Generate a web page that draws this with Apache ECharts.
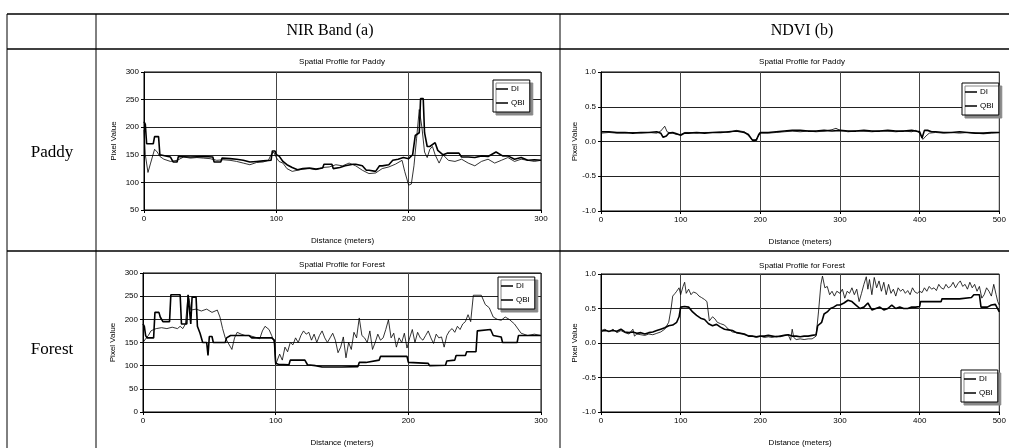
<!DOCTYPE html>
<html>
<head>
<meta charset="utf-8">
<script src="https://cdn.jsdelivr.net/npm/echarts@6/dist/echarts.min.js"></script>
<style>
  html, body { margin: 0; padding: 0; background: #fff; }
  #Echarts { width: 1009px; height: 448px; }
</style>
</head>
<body>
<div id="Echarts"></div>
<script>
// ---- data ----
// NIR band, paddy (distance m / pixel value)
const nirPaddyDiX = [0, 1, 2, 7, 8, 11, 12, 20, 22, 25, 26, 35, 45, 52, 53, 58, 59, 65, 70, 75, 80, 85, 90, 96, 97, 99, 100, 102, 105, 108, 112, 116, 120, 125, 130, 135, 136, 142, 143, 148, 152, 158, 160, 165, 168, 170, 175, 178, 180, 185, 188, 192, 196, 200, 203, 205, 208, 209, 211, 212, 214, 216, 220, 222, 226, 229, 238, 240, 245, 250, 255, 260, 266, 271, 275, 280, 285, 290, 295, 300];
const nirPaddyDiY = [210, 205, 170, 170, 183, 183, 150, 146, 137, 137, 147, 146, 147, 146, 137, 137, 144, 143, 142, 140, 137, 138, 139, 140, 157, 157, 150, 148, 138, 132, 127, 123, 125, 126, 124, 126, 133, 133, 125, 127, 130, 133, 133, 130, 122, 122, 120, 130, 130, 132, 140, 142, 145, 143, 150, 185, 190, 252, 252, 190, 165, 165, 172, 158, 150, 153, 153, 146, 146, 145, 148, 147, 155, 148, 148, 142, 145, 140, 141, 140];
const nirPaddyQbiX = [0, 1, 3, 5, 8, 10, 12, 15, 20, 25, 30, 35, 40, 45, 50, 55, 60, 65, 70, 75, 80, 85, 90, 94, 96, 98, 100, 102, 105, 108, 112, 116, 120, 125, 130, 135, 140, 145, 150, 155, 160, 165, 170, 175, 180, 185, 190, 195, 197, 200, 202, 204, 206, 208, 210, 212, 214, 216, 218, 220, 223, 226, 230, 235, 240, 245, 250, 255, 260, 265, 270, 275, 280, 285, 290, 295, 300];
const nirPaddyQbiY = [195, 150, 118, 135, 160, 155, 147, 142, 138, 140, 146, 144, 145, 144, 143, 140, 141, 140, 138, 135, 132, 136, 137, 140, 150, 155, 145, 138, 135, 125, 120, 122, 124, 125, 123, 127, 128, 132, 130, 135, 130, 122, 116, 117, 125, 128, 133, 140, 120, 95, 97, 130, 180, 232, 200, 155, 145, 160, 165, 150, 135, 150, 140, 138, 142, 135, 130, 138, 142, 135, 140, 145, 138, 142, 140, 138, 140];

// NDVI, paddy
const ndviPaddyDiX = [0, 10, 20, 30, 40, 50, 60, 70, 75, 78, 82, 85, 90, 95, 100, 105, 110, 120, 130, 140, 150, 160, 170, 180, 185, 190, 195, 198, 200, 210, 220, 230, 240, 250, 260, 270, 280, 290, 300, 310, 320, 330, 340, 350, 360, 370, 380, 390, 400, 403, 406, 410, 415, 420, 430, 440, 450, 460, 470, 480, 490, 500];
const ndviPaddyDiY = [0.14, 0.14, 0.13, 0.13, 0.12, 0.13, 0.13, 0.14, 0.12, 0.06, 0.08, 0.12, 0.13, 0.11, 0.09, 0.12, 0.12, 0.13, 0.12, 0.13, 0.13, 0.14, 0.15, 0.13, 0.1, 0.02, 0.02, 0.1, 0.13, 0.13, 0.14, 0.15, 0.16, 0.16, 0.15, 0.15, 0.16, 0.15, 0.16, 0.15, 0.15, 0.16, 0.15, 0.15, 0.16, 0.15, 0.15, 0.16, 0.14, 0.05, 0.16, 0.16, 0.14, 0.14, 0.13, 0.13, 0.14, 0.13, 0.12, 0.12, 0.13, 0.13];
const ndviPaddyQbiX = [0, 10, 20, 30, 40, 50, 60, 70, 75, 80, 83, 87, 90, 95, 100, 105, 110, 120, 130, 140, 150, 160, 170, 180, 188, 192, 196, 200, 210, 220, 230, 240, 250, 260, 270, 280, 290, 295, 300, 310, 320, 330, 340, 350, 360, 370, 380, 390, 395, 400, 404, 408, 412, 420, 430, 440, 450, 460, 470, 480, 490, 500];
const ndviPaddyQbiY = [0.12, 0.13, 0.12, 0.12, 0.13, 0.12, 0.13, 0.12, 0.15, 0.22, 0.14, 0.12, 0.12, 0.1, 0.1, 0.13, 0.13, 0.12, 0.13, 0.13, 0.14, 0.13, 0.16, 0.14, 0.05, 0.0, 0.05, 0.12, 0.12, 0.13, 0.14, 0.15, 0.14, 0.15, 0.14, 0.15, 0.17, 0.19, 0.16, 0.14, 0.15, 0.15, 0.14, 0.15, 0.15, 0.14, 0.15, 0.14, 0.16, 0.12, 0.03, 0.08, 0.12, 0.13, 0.12, 0.13, 0.12, 0.13, 0.12, 0.11, 0.12, 0.13];

// NIR band, forest
const nirForestDiX = [0, 1, 2, 3, 8, 9, 12, 13, 15, 20, 21, 28, 29, 33, 34, 35, 36, 37, 40, 41, 43, 45, 48, 49, 50, 52, 53, 62, 63, 66, 80, 82, 97, 99, 100, 102, 110, 111, 122, 124, 130, 135, 150, 162, 163, 168, 169, 178, 179, 199, 200, 215, 216, 228, 229, 235, 236, 243, 244, 251, 252, 262, 264, 270, 271, 282, 283, 300];
const nirForestDiY = [190, 185, 165, 160, 160, 215, 215, 205, 195, 195, 253, 253, 190, 190, 253, 253, 190, 248, 248, 185, 170, 150, 150, 122, 163, 163, 150, 150, 160, 165, 165, 160, 160, 155, 105, 103, 102, 112, 112, 102, 100, 97, 97, 98, 107, 107, 111, 112, 120, 120, 107, 105, 100, 101, 110, 112, 122, 122, 130, 130, 175, 178, 165, 162, 150, 150, 165, 165];
const nirForestQbiX = [0, 2, 4, 6, 8, 10, 14, 18, 22, 26, 28, 30, 32, 34, 35, 36, 40, 44, 48, 52, 56, 58, 60, 62, 64, 66, 67, 69, 71, 74, 77, 80, 84, 88, 90, 92, 95, 97, 99, 100, 101, 103, 105, 107, 109, 111, 113, 115, 117, 119, 121, 123, 125, 127, 129, 131, 133, 135, 137, 139, 141, 143, 145, 147, 149, 151, 153, 155, 157, 159, 161, 163, 165, 167, 169, 171, 173, 175, 177, 179, 181, 183, 185, 187, 189, 191, 193, 195, 197, 199, 201, 203, 205, 207, 209, 211, 213, 215, 217, 219, 221, 223, 225, 227, 229, 231, 233, 235, 237, 239, 241, 243, 245, 247, 249, 255, 258, 261, 264, 267, 270, 273, 276, 280, 285, 290, 295, 300];
const nirForestQbiY = [150, 158, 165, 175, 178, 180, 182, 180, 183, 180, 185, 180, 190, 252, 240, 220, 222, 218, 222, 215, 220, 205, 180, 160, 150, 140, 135, 160, 172, 168, 165, 165, 162, 158, 175, 185, 178, 165, 150, 102, 110, 125, 112, 140, 130, 150, 145, 160, 150, 165, 175, 168, 172, 155, 168, 150, 165, 175, 160, 150, 160, 170, 155, 128, 140, 162, 117, 150, 135, 172, 160, 203, 165, 160, 150, 175, 135, 150, 168, 155, 160, 178, 199, 160, 170, 140, 160, 150, 170, 138, 160, 178, 150, 172, 160, 155, 165, 175, 160, 148, 168, 160, 162, 140, 165, 175, 180, 172, 185, 178, 190, 195, 210, 195, 252, 252, 232, 225, 205, 200, 198, 205, 200, 190, 170, 165, 168, 165];

// NDVI, forest
const ndviForestDiX = [0, 5, 10, 15, 20, 25, 30, 35, 40, 45, 50, 55, 60, 65, 70, 75, 80, 85, 90, 95, 98, 100, 105, 110, 115, 120, 125, 130, 135, 140, 145, 150, 155, 160, 165, 170, 175, 180, 185, 190, 195, 200, 205, 210, 215, 220, 225, 230, 235, 240, 245, 250, 255, 260, 265, 270, 272, 277, 280, 284, 288, 292, 296, 300, 305, 310, 315, 320, 325, 330, 335, 340, 345, 350, 355, 360, 365, 370, 375, 380, 385, 390, 395, 400, 401, 410, 420, 427, 428, 440, 450, 452, 465, 468, 475, 477, 485, 490, 495, 500];
const ndviForestDiY = [0.17, 0.18, 0.17, 0.18, 0.17, 0.2, 0.16, 0.15, 0.16, 0.14, 0.15, 0.13, 0.15, 0.16, 0.18, 0.2, 0.22, 0.25, 0.26, 0.3, 0.38, 0.52, 0.53, 0.52, 0.45, 0.4, 0.36, 0.34, 0.28, 0.25, 0.27, 0.23, 0.2, 0.19, 0.18, 0.15, 0.14, 0.13, 0.1, 0.1, 0.09, 0.1, 0.1, 0.11, 0.1, 0.09, 0.1, 0.11, 0.12, 0.1, 0.1, 0.09, 0.1, 0.1, 0.11, 0.12, 0.25, 0.3, 0.42, 0.45, 0.5, 0.52, 0.55, 0.55, 0.58, 0.62, 0.6, 0.55, 0.5, 0.52, 0.58, 0.48, 0.5, 0.52, 0.48, 0.5, 0.55, 0.5, 0.52, 0.5, 0.5, 0.52, 0.52, 0.53, 0.6, 0.6, 0.6, 0.6, 0.64, 0.64, 0.64, 0.66, 0.66, 0.7, 0.7, 0.52, 0.52, 0.55, 0.56, 0.45];
const ndviForestQbiX = [0, 5, 10, 15, 20, 25, 30, 35, 40, 42, 45, 50, 55, 60, 65, 70, 75, 80, 85, 88, 90, 93, 95, 98, 100, 103, 105, 107, 110, 113, 116, 120, 123, 126, 130, 133, 136, 140, 143, 146, 150, 155, 160, 165, 170, 175, 180, 185, 190, 195, 200, 205, 210, 215, 220, 225, 230, 235, 238, 240, 242, 245, 250, 255, 260, 265, 270, 273, 276, 278, 281, 284, 287, 290, 293, 296, 300, 303, 306, 309, 312, 315, 318, 321, 324, 327, 330, 333, 335, 337, 340, 343, 346, 349, 352, 355, 358, 361, 364, 367, 370, 373, 376, 379, 382, 385, 388, 391, 394, 397, 400, 403, 406, 409, 412, 415, 418, 421, 424, 427, 430, 433, 436, 439, 442, 445, 448, 451, 454, 457, 460, 463, 466, 469, 472, 475, 478, 481, 484, 487, 490, 493, 496, 498, 500];
const ndviForestQbiY = [0.18, 0.2, 0.16, 0.2, 0.15, 0.18, 0.15, 0.13, 0.2, 0.1, 0.13, 0.12, 0.11, 0.13, 0.12, 0.14, 0.16, 0.2, 0.3, 0.5, 0.68, 0.72, 0.75, 0.8, 0.7, 0.82, 0.88, 0.72, 0.78, 0.7, 0.74, 0.72, 0.68, 0.66, 0.63, 0.6, 0.32, 0.38, 0.35, 0.3, 0.28, 0.26, 0.2, 0.16, 0.15, 0.14, 0.12, 0.11, 0.1, 0.08, 0.1, 0.08, 0.09, 0.08, 0.1, 0.09, 0.11, 0.12, 0.04, 0.2, 0.08, 0.05, 0.06, 0.05, 0.06, 0.06, 0.1, 0.45, 0.85, 0.97, 0.8, 0.82, 0.7, 0.75, 0.68, 0.75, 0.72, 0.78, 0.65, 0.75, 0.72, 0.8, 0.7, 0.78, 0.6, 0.72, 0.85, 0.96, 0.78, 0.92, 0.7, 0.95, 0.8, 0.9, 0.75, 0.88, 0.7, 0.85, 0.72, 0.78, 0.68, 0.8, 0.75, 0.78, 0.72, 0.76, 0.7, 0.8, 0.74, 0.72, 0.75, 0.73, 0.8, 0.75, 0.82, 0.78, 0.8, 0.76, 0.85, 0.8, 0.78, 0.85, 0.8, 0.82, 0.88, 0.8, 0.86, 0.9, 0.82, 0.85, 0.78, 0.88, 0.8, 0.85, 0.75, 0.82, 0.65, 0.7, 0.8, 0.75, 0.68, 0.85, 0.7, 0.6, 0.55];

const nirTicks = { paddyMin: 50, forestMin: 0, max: 300, step: 50 };
const ndviTicks = { min: -1, max: 1, step: 0.5 };
const seriesNames = ["DI", "QBI"];

function pair (xs, ys) {
  return xs.map(function (x, i) { return [x, ys[i]]; });
}

var myChart = echarts.init(document.getElementById("Echarts"), null, { width: 1009, height: 448 });

const small = { fontFamily: "Liberation Sans, Arial, sans-serif", fontSize: 8, color: "#000" };
const serif = "Liberation Serif, DejaVu Serif, serif";

// plot boxes [left, top, width, height] in px
const boxes = [
  [144, 72, 397, 138],
  [601, 72, 403, 139],
  [143, 273, 398, 140],
  [601, 274, 403, 141],
];

function xAxisFor (idx, max) {
  return {
    type: "value",
    gridIndex: idx,
    min: 0,
    max: max,
    interval: 100,
    name: "Distance (meters)",
    nameLocation: "middle",
    nameGap: 27,
    nameTextStyle: small,
    axisLine: { show: true, onZero: false, lineStyle: { color: "#000", width: 1 } },
    axisTick: { show: true, length: 3, lineStyle: { color: "#000" } },
    axisLabel: Object.assign({ margin: 5, showMinLabel: true, showMaxLabel: true }, small),
    splitLine: { show: true, lineStyle: { color: "#444", width: 1 } },
  };
}

function yAxisFor (idx, min, max, step, gap, fmt) {
  return {
    type: "value",
    gridIndex: idx,
    min: min,
    max: max,
    interval: step,
    name: "Pixel Value",
    nameLocation: "middle",
    nameGap: gap,
    nameTextStyle: small,
    axisLine: { show: true, lineStyle: { color: "#000", width: 1 } },
    axisTick: { show: true, length: 3, lineStyle: { color: "#000" } },
    axisLabel: Object.assign({ margin: 5, formatter: fmt }, small),
    splitLine: { show: true, lineStyle: { color: "#222", width: 1 } },
  };
}

function lineSeries (name, idx, data, width) {
  return {
    type: "line",
    name: name,
    xAxisIndex: idx,
    yAxisIndex: idx,
    data: data,
    symbol: "none",
    color: "#000",
    lineStyle: { color: "#000", width: width },
    z: name === "DI" ? 3 : 4,
  };
}

function legendAt (left, top) {
  return {
    data: [
      { name: "DI", icon: "rect", itemStyle: { color: "#000" } },
      { name: "QBI", icon: "rect", itemStyle: { color: "#000" } },
    ],
    orient: "vertical",
    left: left,
    top: top,
    padding: [5, 5, 5, 3],
    itemGap: 6,
    itemWidth: 12,
    itemHeight: 1.5,
    textStyle: Object.assign({ padding: [0, 0, 0, -2], lineHeight: 8 }, small),
    backgroundColor: "#fff",
    borderColor: "#000",
    borderWidth: 1,
    shadowColor: "#888",
    shadowBlur: 0,
    shadowOffsetX: 3,
    shadowOffsetY: 3,
    selectedMode: false,
  };
}

function label (text, x, y, style) {
  return {
    type: "text",
    x: x,
    y: y,
    style: Object.assign({ text: text, fill: "#000", align: "center", verticalAlign: "middle" }, style),
  };
}

function hline (x1, x2, y, w) {
  return { type: "line", shape: { x1: x1, y1: y, x2: x2, y2: y }, style: { stroke: "#000", lineWidth: w } };
}
function vline (x, y1, y2, w) {
  return { type: "line", shape: { x1: x, y1: y1, x2: x, y2: y2 }, style: { stroke: "#000", lineWidth: w } };
}

const fmtInt = function (v) { return String(v); };
const fmtOne = function (v) { return v.toFixed(1); };

let option = {
  animation: false,
  backgroundColor: "#fff",
  grid: boxes.map(function (b) {
    return { left: b[0], top: b[1], width: b[2], height: b[3], show: true, borderColor: "#000", borderWidth: 1, backgroundColor: "transparent" };
  }),
  xAxis: [xAxisFor(0, 300), xAxisFor(1, 500), xAxisFor(2, 300), xAxisFor(3, 500)],
  yAxis: [
    yAxisFor(0, nirTicks.paddyMin, nirTicks.max, nirTicks.step, 26, fmtInt),
    yAxisFor(1, ndviTicks.min, ndviTicks.max, ndviTicks.step, 20, fmtOne),
    yAxisFor(2, nirTicks.forestMin, nirTicks.max, nirTicks.step, 26, fmtInt),
    yAxisFor(3, ndviTicks.min, ndviTicks.max, ndviTicks.step, 20, fmtOne),
  ],
  legend: [legendAt(493, 80), legendAt(962, 83), legendAt(498, 277), legendAt(961, 370)],
  series: [
    lineSeries("DI", 0, pair(nirPaddyDiX, nirPaddyDiY), 1.6),
    lineSeries("QBI", 0, pair(nirPaddyQbiX, nirPaddyQbiY), 0.8),
    lineSeries("DI", 1, pair(ndviPaddyDiX, ndviPaddyDiY), 1.6),
    lineSeries("QBI", 1, pair(ndviPaddyQbiX, ndviPaddyQbiY), 0.8),
    lineSeries("DI", 2, pair(nirForestDiX, nirForestDiY), 1.6),
    lineSeries("QBI", 2, pair(nirForestQbiX, nirForestQbiY), 0.8),
    lineSeries("DI", 3, pair(ndviForestDiX, ndviForestDiY), 1.6),
    lineSeries("QBI", 3, pair(ndviForestQbiX, ndviForestQbiY), 0.8),
  ],
  graphic: [
    // table rules
    hline(7, 1009, 14, 1.5),
    hline(7, 1009, 49, 1.5),
    hline(7, 1009, 251, 1.5),
    vline(7, 14, 448, 1),
    vline(96, 14, 448, 1),
    vline(560, 14, 448, 1),
    // headers
    label("NIR Band (a)", 330, 31, { font: "16px " + serif }),
    label("NDVI (b)", 802, 31, { font: "16px " + serif }),
    label("Paddy", 52, 153, { font: "17px " + serif }),
    label("Forest", 52, 350, { font: "17px " + serif }),
    // panel titles
    label("Spatial Profile for Paddy", 342, 62, { font: "8px Liberation Sans, Arial, sans-serif" }),
    label("Spatial Profile for Paddy", 802, 62, { font: "8px Liberation Sans, Arial, sans-serif" }),
    label("Spatial Profile for Forest", 342, 265, { font: "8px Liberation Sans, Arial, sans-serif" }),
    label("Spatial Profile for Forest", 802, 266, { font: "8px Liberation Sans, Arial, sans-serif" }),
  ],
};
myChart.setOption(option);
</script>
</body>
</html>
